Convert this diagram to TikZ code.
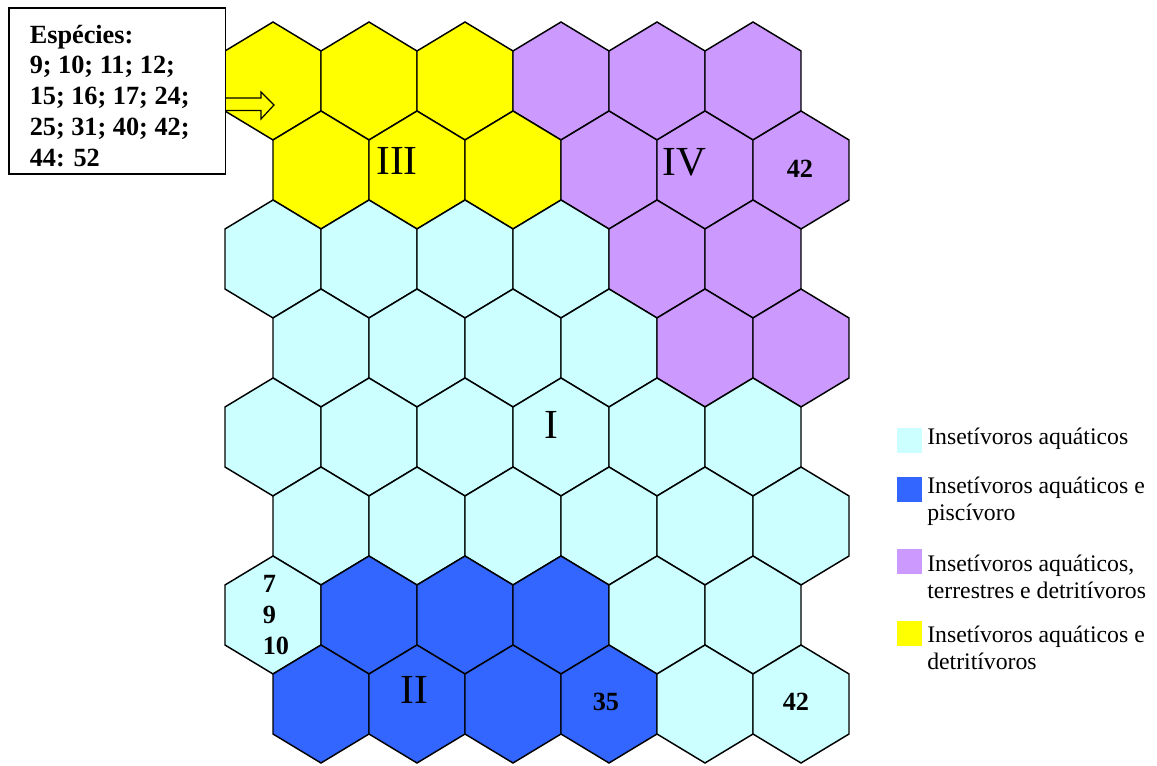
\documentclass[tikz,border=0pt]{standalone}
\usepackage{fontspec}
\setmainfont{Liberation Serif}
\usepackage{xcolor}
\usepackage{tikz}
\definecolor{aquat}{HTML}{CCFFFF}
\definecolor{pisc}{HTML}{3366FF}
\definecolor{terr}{HTML}{CC99FF}
\definecolor{detr}{HTML}{FFFF00}

\begin{document}
\begin{tikzpicture}[
	x=0.75pt,
	y=0.75pt,
	line join=miter,
	hexcell/.style={draw=black,line width=1.1pt},
	roman/.style={font=\fontsize{31}{36}\selectfont,inner sep=0pt,anchor=base west},
	species/.style={font=\fontsize{19.7}{23.06}\selectfont\bfseries,inner sep=0pt},
	legtext/.style={font=\fontsize{17.8}{20.25}\selectfont,inner sep=0pt,anchor=north west,align=left}
	]
	\useasboundingbox (0,0) rectangle (1157,765);
	
	% mapa auto-organizado: 8 linhas x 6 colunas
	\foreach \cols [count=\r] in {
		{detr,detr,detr,terr,terr,terr},
		{detr,detr,detr,terr,terr,terr},
		{aquat,aquat,aquat,aquat,terr,terr},
		{aquat,aquat,aquat,aquat,terr,terr},
		{aquat,aquat,aquat,aquat,aquat,aquat},
		{aquat,aquat,aquat,aquat,aquat,aquat},
		{aquat,pisc,pisc,pisc,aquat,aquat},
		{pisc,pisc,pisc,pisc,aquat,aquat}}
	\foreach \col [count=\c] in \cols {
		\pgfmathsetmacro{\cx}{273+96*(\c-1)+48*(1-mod(\r,2))}
		\pgfmathsetmacro{\cy}{684-89*(\r-1)}
		\draw[hexcell,fill=\col] (\cx,\cy) ++(0,59) -- ++(48,-29) -- ++(0,-60)
		-- ++(-48,-29) -- ++(-48,29) -- ++(0,60) -- cycle;
	}
	
	% caixa de especies
	\draw[line width=1.1pt,fill=white] (9,757) rectangle (225.5,591);
	\node[species,anchor=north west,align=left] (especies) at (29.5,740.4)
	{Espécies:\\9; 10; 11; 12;\\15; 16; 17; 24;\\25; 31; 40; 42;\\44: 52};
	\draw[line width=0.9pt] (225.5,667) -- (261,667) -- (261,673) -- (274,660)
	-- (261,646) -- (261,654.5) -- (225.5,654.5);
	
	% grupos
	\node[roman] (grpIII) at (376,590) {III};
	\node[roman] (grpIV) at (662,589) {IV};
	\node[roman] (grpI) at (544,326) {I};
	\node[roman] (grpII) at (400,62) {II};
	
	\node[species,anchor=base west] (sp42a) at (786.5,587) {42};
	\node[species,anchor=base west] (sp35) at (592.5,55) {35};
	\node[species,anchor=base west] (sp42b) at (782.5,55) {42};
	\node[species,anchor=north west,align=left] (sp7) at (262.5,189.6) {7\\9\\10};
	
	% legenda
	\foreach \clr/\sq/\tx/\txt in {
		aquat/337/337.4/{Insetívoros aquáticos},
		pisc/288/288.4/{Insetívoros aquáticos e\\piscívoro},
		terr/216/210.4/{Insetívoros aquáticos,\\terrestres e detritívoros},
		detr/144/139.1/{Insetívoros aquáticos e\\detritívoros}} {
		\fill[\clr] (897,\sq) rectangle +(25,-25);
		\node[legtext] (leg\clr) at (927,\tx) {\txt};
	}
\end{tikzpicture}
\end{document}
